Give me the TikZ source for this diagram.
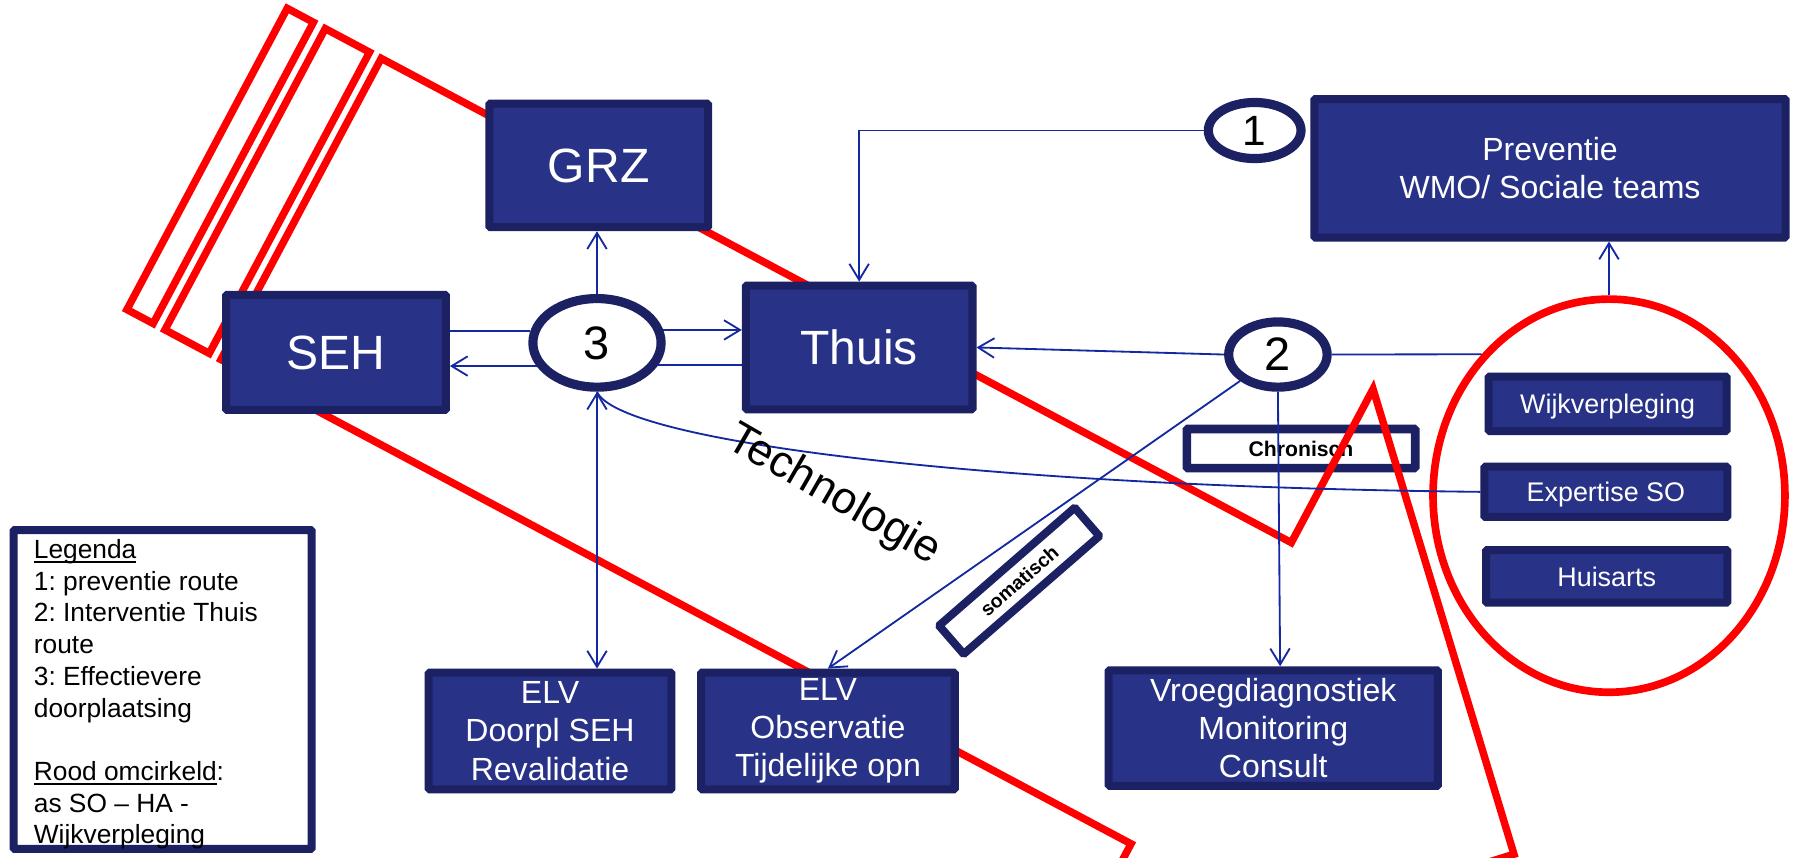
\documentclass[tikz,border=0pt]{standalone}
\usepackage{fontspec}
\setmainfont{Liberation Sans}
\usetikzlibrary{arrows.meta,shapes.geometric}
\definecolor{navyfill}{RGB}{40,50,135}
\definecolor{navyline}{RGB}{28,33,99}
\definecolor{linkblue}{RGB}{20,40,160}
\definecolor{redline}{RGB}{255,0,0}
\pgfdeclarelayer{chron}
\pgfdeclarelayer{redl}
\pgfdeclarelayer{links}
\pgfsetlayers{chron,redl,links,main}
\newcommand{\myfs}[2]{\fontsize{#1}{#2}\selectfont}
\newcommand{\myul}[1]{\leavevmode\setbox0\hbox{#1}\rlap{\rule[-3.8pt]{\wd0}{1.5pt}}\box0}
\frenchspacing
\begin{document}
\begin{tikzpicture}[x=1pt,y=-1pt,
  navybox/.style={draw=navyline, fill=navyfill, line width=7pt, rounded corners=1pt, text=white, inner sep=0pt, align=center},
  oneline/.style={text depth=0pt},
  numell/.style={ellipse, draw=navyline, fill=white, line width=8pt, inner sep=0pt, text depth=0pt},
  whitebox/.style={draw=navyline, fill=white, line width=7pt, rounded corners=1pt, inner sep=0pt, text depth=0pt},
  conn/.style={draw=linkblue, line width=1.6pt},
  arr/.style={-{Straight Barb[length=14pt,width=17pt]}},
  dblarr/.style={{Straight Barb[length=14pt,width=17pt]}-{Straight Barb[length=14pt,width=17pt]}},
  redshape/.style={draw=redline, line width=6.5pt, line join=miter},
]
\useasboundingbox (0,0) rectangle (1568,749);

% boxes
\node[navybox, oneline, minimum width=191pt, minimum height=108pt, font=\myfs{42}{49}] (grz) at (523,144.5) {GRZ};
\node[navybox, oneline, minimum width=192pt, minimum height=100.6pt, font=\myfs{42}{49}] (seh) at (293.5,307.8) {SEH};
\node[navybox, oneline, minimum width=198pt, minimum height=108pt, font=\myfs{42}{49}] (thuis) at (750.5,303.5) {Thuis};
\node[navybox, minimum width=411.6pt, minimum height=121pt, font=\myfs{28}{33.2}] (prev) at (1354,147) {Preventie\\WMO/ Sociale teams};
\node[navybox, oneline, minimum width=208pt, minimum height=47.5pt, font=\myfs{23.5}{28}] (wijk) at (1404.3,352.75) {Wijkverpleging};
\node[navybox, oneline, minimum width=212.2pt, minimum height=43.9pt, font=\myfs{23.5}{28}] (expso) at (1402.8,429.65) {Expertise SO};
\node[navybox, oneline, minimum width=210.7pt, minimum height=46pt, font=\myfs{23.5}{28}] (huisarts) at (1403.5,503.5) {Huisarts};
\node[navybox, minimum width=212pt, minimum height=102pt, font=\myfs{28}{33.5}] (elvdoor) at (480.5,638.5) {ELV\\Doorpl SEH\\Revalidatie};
\node[navybox, minimum width=221.5pt, minimum height=102pt, font=\myfs{28}{33.5}] (elvobs) at (723.25,638.5) {ELV\\Observatie\\Tijdelijke opn};
\node[navybox, minimum width=287.5pt, minimum height=101pt, font=\myfs{28}{33.5}] (vroeg) at (1112.25,636) {Vroegdiagnostiek\\Monitoring\\Consult};

% numbered ellipses
\node[numell, minimum width=81pt, minimum height=49pt, font=\myfs{37}{40}] (e1) at (1096,114) {1};
\node[numell, minimum width=86pt, minimum height=57pt, font=\myfs{41}{44}] (e2) at (1116.3,309.7) {2};
\node[numell, minimum width=112pt, minimum height=77.4pt, font=\myfs{41}{44}] (e3) at (521.5,299.5) {3};

% legend
\node[whitebox, minimum width=260.4pt, minimum height=278.5pt] (legbox) at (142.1,602.25) {};
\node[anchor=north west, inner sep=0pt, align=left, font=\myfs{23}{27.7}] (legtext) at (29.4,467.7)
  {\rule{0pt}{20pt}\myul{Legenda}\\1: preventie route\\2: Interventie Thuis\\route\\3: Effectievere\\doorplaatsing\\\mbox{}\\\myul{Rood omcirkeld}:\\as SO – HA -\\Wijkverpleging};

% labels
\node[whitebox, rotate=41, minimum width=157pt, minimum height=32.8pt, font=\bfseries\myfs{17}{20}] (somat) at (890.3,507.4) {somatisch};
\node[rotate=-30, inner sep=0pt, font=\myfs{39}{44}] (techno) at (728,433) {Technologie};

\begin{pgfonlayer}{chron}
\fill[white] (0,0) rectangle (1568,749);
\node[whitebox, line width=7.5pt, minimum width=199.5pt, minimum height=34.1pt, font=\bfseries\myfs{18.5}{22}] (chron) at (1136.5,391.8) {Chronisch};
\end{pgfonlayer}

\begin{pgfonlayer}{redl}
\begin{scope}
\clip (0,0) rectangle (1568,749);
\draw[redshape] (250.9,7.3) -- (273.8,19.5) -- (133.8,282.6) -- (110.9,270.4) -- cycle;
\draw[redshape] (284.1,25) -- (322.8,45.6) -- (182.8,308.7) -- (144.1,288.1) -- cycle;
\draw[redshape] (333,51) -- (1128,474) -- (1199.4,339.8) -- (1322.5,746.2) -- (916.6,871.3) -- (988,737.1) -- (193,314.1) -- cycle;
\end{scope}
\node[ellipse, draw=redline, line width=6.7pt, minimum width=307.4pt, minimum height=343.4pt, inner sep=0pt] (redring) at (1405.5,433) {};
\end{pgfonlayer}

\begin{pgfonlayer}{links}
\draw[conn,arr] (e1.west) -| (thuis.north);
\draw[conn,arr] (redring.north) -- (redring.north |- prev.south);
\draw[conn,arr] (e2.west) -- (thuis.east);
\draw[conn] (e2.east) -- (redring.132);
\draw[conn,arr] (e2.south) -- ([xshift=6pt]vroeg.north);
\draw[conn,arr] (e2) -- (elvobs.north);
\draw[conn,arr] (e3.north) -- (e3.north |- grz.south);
\draw[conn] (e3.170 -| seh.east) -- (e3.170);
\draw[conn,arr] (e3.201) -- (e3.201 -| seh.east);
\draw[conn,arr] (e3.11) -- (e3.11 -| thuis.west);
\draw[conn] (e3.340 -| thuis.west) -- (e3.340);
\draw[conn,dblarr] (e3.south) -- (e3.south |- elvdoor.north);
\draw[conn] (expso.west) .. controls (850,425) and (540,385) .. (e3.south);
\end{pgfonlayer}
\end{tikzpicture}
\end{document}
